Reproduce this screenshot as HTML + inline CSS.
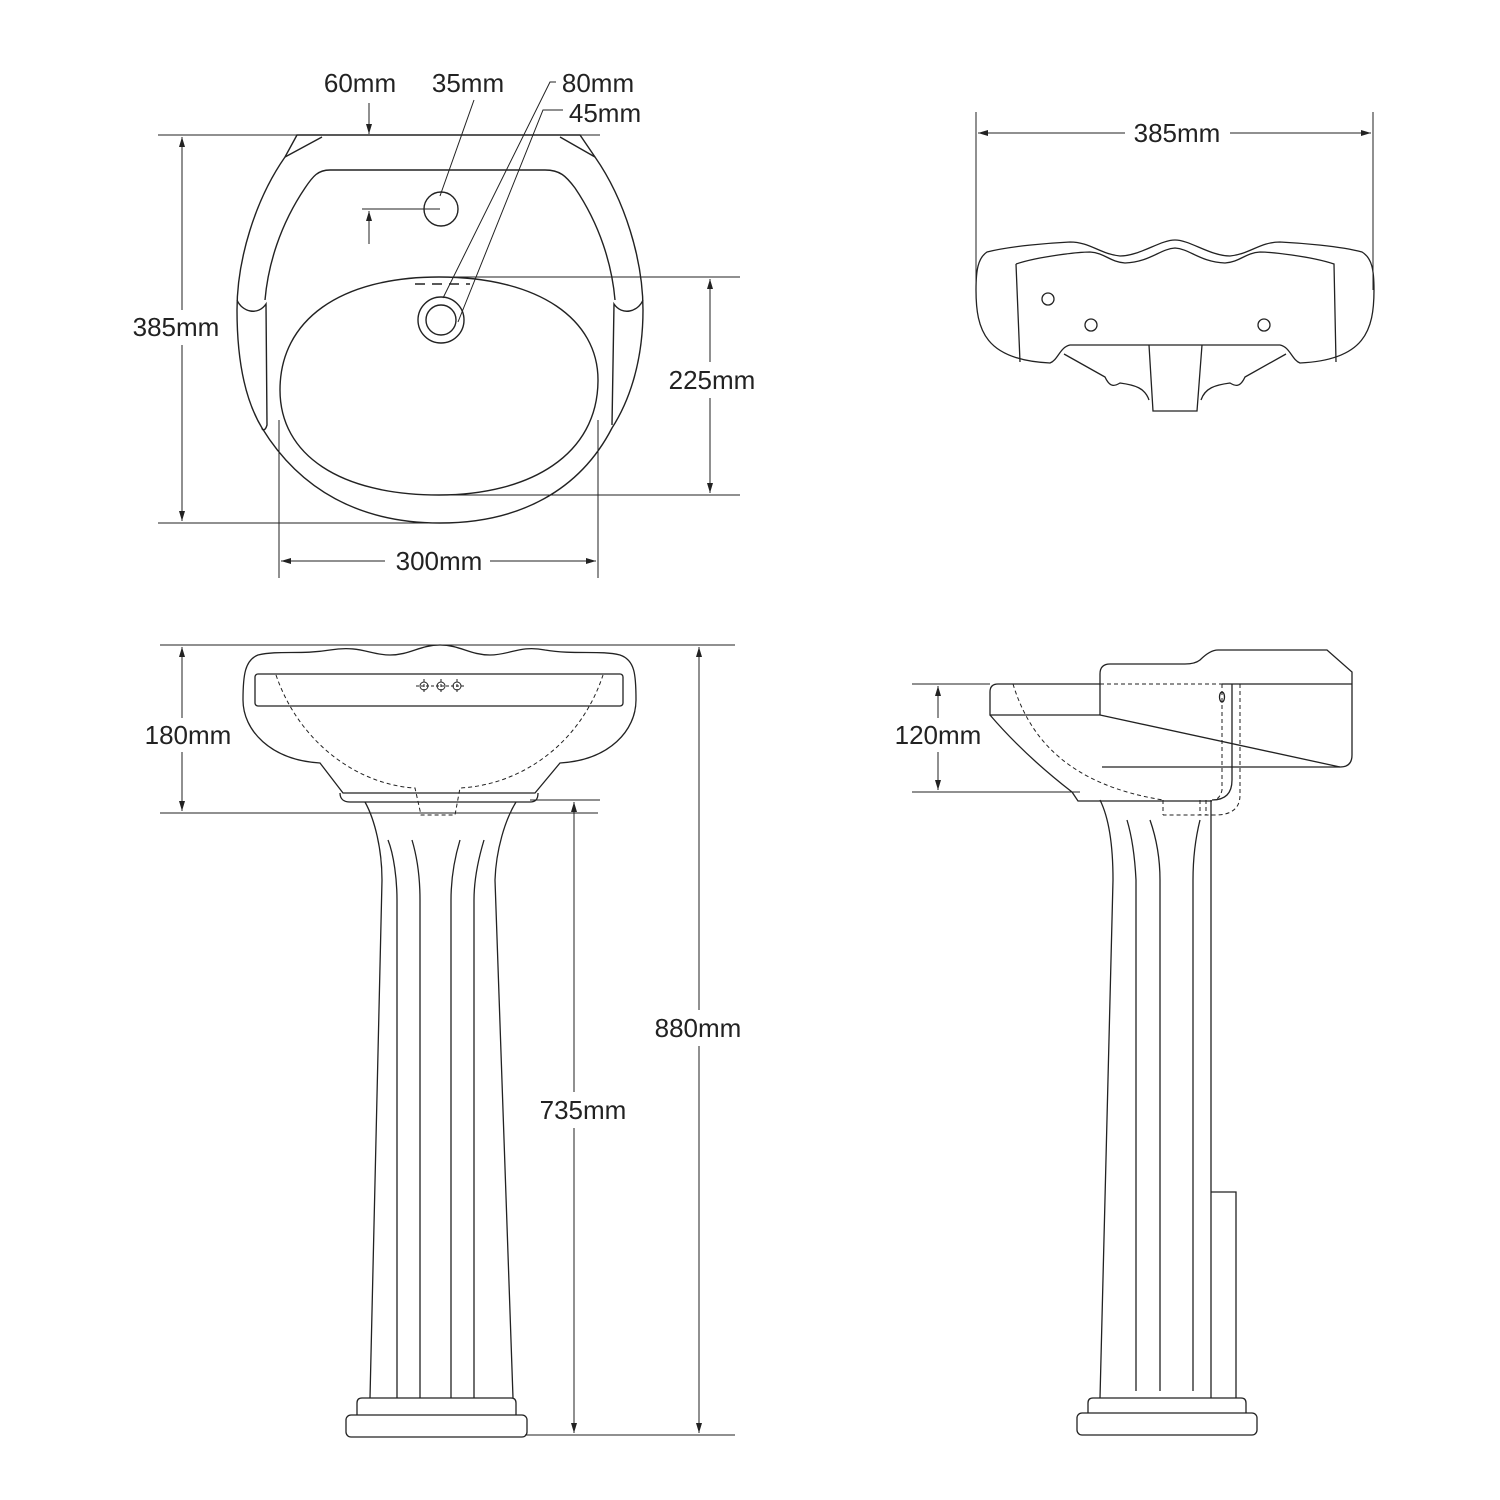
<!DOCTYPE html>
<html><head><style>html,body{margin:0;padding:0;background:#fff}svg{display:block}</style></head><body>
<svg width="1500" height="1500" viewBox="0 0 1500 1500" xmlns="http://www.w3.org/2000/svg">
<defs>
<marker id="a" viewBox="0 0 10 10" refX="10" refY="5" markerWidth="10" markerHeight="10" orient="auto-start-reverse" markerUnits="userSpaceOnUse"><path d="M0,2 L10,5 L0,8 z" fill="#222"/></marker>
</defs>
<g fill="none" stroke="#222" stroke-width="1">
<line x1="158" y1="135" x2="600" y2="135"/>
<line x1="158" y1="523" x2="440" y2="523"/>
<line x1="440" y1="277" x2="740" y2="277"/>
<line x1="440" y1="495" x2="740" y2="495"/>
<line x1="279" y1="420" x2="279" y2="578"/>
<line x1="598" y1="420" x2="598" y2="578"/>
<line x1="182" y1="137" x2="182" y2="310" marker-start="url(#a)"/>
<line x1="182" y1="345" x2="182" y2="521" marker-end="url(#a)"/>
<line x1="710" y1="279" x2="710" y2="362" marker-start="url(#a)"/>
<line x1="710" y1="398" x2="710" y2="493" marker-end="url(#a)"/>
<line x1="281" y1="561" x2="385" y2="561" marker-start="url(#a)"/>
<line x1="490" y1="561" x2="596" y2="561" marker-end="url(#a)"/>
<line x1="369" y1="103" x2="369" y2="134" marker-end="url(#a)"/>
<line x1="362" y1="209" x2="440" y2="209"/>
<line x1="369" y1="244" x2="369" y2="211" marker-end="url(#a)"/>
<polyline points="474,100 440,196"/>
<polyline points="556,82 550,82 443,298"/>
<polyline points="563,110 543,110 458,322"/>
</g>
<g fill="none" stroke="#222" stroke-width="1.4">
<path d="M297,135 L580,135 L595,157 C625,200 643,260 643,310 C643,360 630,400 612,428 C580,490 520,523 440,523 C360,523 300,490 262,428 C245,400 237,360 237,310 C237,260 255,200 285,157 Z"/>
<path d="M285,157 L322,137 M595,157 L560,137"/>
<path d="M330,170 L545,170 C560,170 566,176 575,188 C600,225 612,265 615,300 M330,170 C318,170 313,176 305,188 C280,225 268,265 265,300"/>
<path d="M237,300 C242,312 258,316 266,304 L267,425 C265,432 262,430 262,428"/>
<path d="M643,300 C638,312 622,316 614,304 L612,425"/>
<path d="M439,277 C540,277 598,320 598,380 C598,455 530,495 439,495 C340,495 280,455 280,390 C280,320 340,277 439,277 Z"/>
<path d="M415,284 H470" stroke-dasharray="10,7"/>
<circle cx="441" cy="320" r="23"/><circle cx="441" cy="320" r="15"/>
<circle cx="441" cy="209" r="17"/>
</g>
<g fill="none" stroke="#222" stroke-width="1">
<line x1="976" y1="112" x2="976" y2="290"/>
<line x1="1373" y1="112" x2="1373" y2="290"/>
<line x1="978" y1="133" x2="1125" y2="133" marker-start="url(#a)"/>
<line x1="1230" y1="133" x2="1371" y2="133" marker-end="url(#a)"/>
</g>
<g fill="none" stroke="#222" stroke-width="1.3">
<path d="M987,252 C1010,246 1050,243 1070,242 C1090,242 1100,254 1120,256 C1140,256 1160,240 1175,240 C1190,240 1210,256 1230,256 C1250,254 1260,242 1280,242 C1300,243 1340,246 1362,252 C1372,258 1374,270 1374,290 C1374,330 1365,360 1300,363 C1292,360 1290,347 1280,345 L1070,345 C1060,347 1058,360 1050,363 C985,360 976,330 976,290 C976,270 978,258 987,252 Z"/>
<path d="M1016,264 C1040,256 1080,252 1090,252 C1105,253 1110,262 1125,263 C1150,262 1160,249 1175,248 C1190,249 1200,262 1225,263 C1240,262 1245,253 1260,252 C1270,252 1310,256 1334,264 L1336,362 M1016,264 L1020,362"/>
<path d="M1064,354 L1105,377 C1110,388 1115,386 1120,383 C1135,385 1145,388 1149,400 M1286,354 L1245,377 C1240,388 1235,386 1230,383 C1215,385 1205,388 1201,400"/>
<path d="M1149,345 L1153,411 L1197,411 L1202,345"/>
<circle cx="1048" cy="299" r="6"/><circle cx="1091" cy="325" r="6"/><circle cx="1264" cy="325" r="6"/>
</g>
<g fill="none" stroke="#222" stroke-width="1">
<line x1="160" y1="645" x2="735" y2="645"/>
<line x1="160" y1="813" x2="598" y2="813"/>
<line x1="530" y1="800" x2="600" y2="800"/>
<line x1="525" y1="1435" x2="735" y2="1435"/>
<line x1="182" y1="647" x2="182" y2="718" marker-start="url(#a)"/>
<line x1="182" y1="752" x2="182" y2="811" marker-end="url(#a)"/>
<line x1="699" y1="647" x2="699" y2="1010" marker-start="url(#a)"/>
<line x1="699" y1="1046" x2="699" y2="1433" marker-end="url(#a)"/>
<line x1="574" y1="802" x2="574" y2="1092" marker-start="url(#a)"/>
<line x1="574" y1="1128" x2="574" y2="1433" marker-end="url(#a)"/>
</g>
<g fill="none" stroke="#222" stroke-width="1.3">
<path d="M258,655 C280,650 300,655 330,650 C360,645 370,655 390,655 C410,655 420,645 440,645 C460,645 470,655 490,655 C510,655 520,645 545,650 C575,655 600,650 620,655 C635,660 636,675 636,700 C636,730 610,760 560,763 L535,793 L343,793 L320,763 C270,760 243,730 243,700 C243,675 245,660 258,655 Z"/>
<rect x="255" y="674" width="368" height="32" rx="3"/>
<path d="M340,793 C340,800 345,802 350,802 L530,802 C535,802 538,800 538,793"/>
<path d="M276,675 C300,745 360,785 415,788 L421,815 L455,815 L460,788 C520,785 580,745 603,675" stroke-dasharray="4,3" stroke-width="1"/>
<path d="M365,802 C375,820 382,850 382,880 L370,1398 M516,802 C505,820 496,850 495,880 L513,1398"/>
<path d="M388,840 C394,855 397,880 397,900 L397,1398 M412,840 C418,860 420,880 420,900 L420,1398 M460,840 C454,860 451,880 451,900 L451,1398 M484,840 C478,860 474,880 474,900 L474,1398"/>
<path d="M357,1415 V1403 Q357,1398 362,1398 H511 Q516,1398 516,1403 V1415"/>
<rect x="346" y="1415" width="181" height="22" rx="5"/>
<g stroke-width="1"><circle cx="424" cy="686" r="4"/><circle cx="441" cy="686" r="4"/><circle cx="457" cy="686" r="4"/>
<path d="M416,686 H466 M424,679 V693 M441,679 V693 M457,679 V693" stroke-dasharray="3,2"/></g>
</g>
<g fill="none" stroke="#222" stroke-width="1">
<line x1="912" y1="684" x2="990" y2="684"/>
<line x1="912" y1="792" x2="1080" y2="792"/>
<line x1="938" y1="686" x2="938" y2="718" marker-start="url(#a)"/>
<line x1="938" y1="752" x2="938" y2="790" marker-end="url(#a)"/>
</g>
<g fill="none" stroke="#222" stroke-width="1.3">
<path d="M1100,684 H998 Q990,684 990,692 V715 L1100,715"/>
<path d="M990,715 C1020,750 1050,775 1072,792 L1078,801 H1212"/>
<path d="M1100,715 L1340,767 Q1352,767 1352,755 V672 L1327,650 H1218 Q1210,650 1200,660 Q1195,664 1185,664 H1110 Q1100,664 1100,674 V715"/>
<line x1="1222" y1="684" x2="1352" y2="684"/>
<line x1="1102" y1="767" x2="1340" y2="767"/>
<path d="M1232,684 V780 Q1232,800 1212,800"/>
<g stroke-width="1" stroke-dasharray="4,3">
<path d="M1100,684 H1222"/>
<path d="M1222,684 V790 Q1220,800 1212,800 M1240,684 V795 Q1240,815 1215,815 H1163 M1163,800 V815 M1200,800 V815 M1206,800 V815"/>
<path d="M1013,684 C1030,740 1070,785 1163,800"/>
</g>
<ellipse cx="1222" cy="697" rx="2.5" ry="5"/>
<path d="M1100,800 C1110,820 1113,850 1113,880 L1100,1398 M1211,800 V1398"/>
<path d="M1127,820 C1133,840 1135,860 1136,880 V1391 M1150,820 C1157,840 1160,860 1160,880 V1391 M1200,820 C1195,840 1193,860 1193,880 V1391"/>
<path d="M1211,1192 H1236 V1398"/>
<path d="M1088,1413 V1403 Q1088,1398 1093,1398 H1241 Q1246,1398 1246,1403 V1413"/>
<rect x="1077" y="1413" width="180" height="22" rx="5"/>
</g>
<g font-family="'Liberation Sans', sans-serif" font-size="26" fill="#222" text-anchor="middle">
<text x="360" y="92">60mm</text>
<text x="468" y="92">35mm</text>
<text x="598" y="92">80mm</text>
<text x="605" y="122">45mm</text>
<text x="176" y="336">385mm</text>
<text x="712" y="389">225mm</text>
<text x="439" y="570">300mm</text>
<text x="1177" y="142">385mm</text>
<text x="188" y="744">180mm</text>
<text x="698" y="1037">880mm</text>
<text x="583" y="1119">735mm</text>
<text x="938" y="744">120mm</text>
</g>
</svg>
</body></html>
